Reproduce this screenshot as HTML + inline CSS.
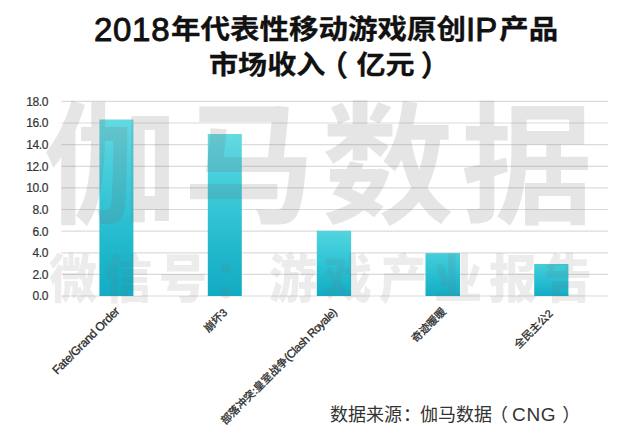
<!DOCTYPE html>
<html lang="zh-CN">
<head>
<meta charset="utf-8">
<style>
*{margin:0;padding:0;box-sizing:border-box;}
html,body{width:641px;height:445px;overflow:hidden;background:#fff;}
body{position:relative;font-family:"Liberation Sans","Noto Sans CJK SC",sans-serif;}
.t{position:absolute;white-space:nowrap;color:#111;font-weight:700;font-family:"Noto Sans CJK SC",sans-serif;font-size:29.5px;line-height:1;-webkit-text-stroke:0.3px #111;}
.t .d{font-size:33px;font-family:"Liberation Sans",sans-serif;font-weight:400;-webkit-text-stroke:0.9px #111;}
.t .p{font-family:"Noto Sans CJK TC",sans-serif;position:relative;}
.t .c{display:inline-block;transform:scaleY(0.91);transform-origin:0 2.5px;}
svg.chart{position:absolute;left:0;top:0;}
.yl{position:absolute;right:593px;font-size:12px;letter-spacing:-0.4px;line-height:1;color:#333;font-family:"Liberation Sans",sans-serif;-webkit-text-stroke:0.2px #333;}
.xl{position:absolute;font-size:10.8px;line-height:1;color:#2a2a2a;white-space:nowrap;transform-origin:100% 0;transform:rotate(-45deg);font-family:"Liberation Sans","Noto Sans CJK SC",sans-serif;-webkit-text-stroke:0.3px #2a2a2a;}
.xl .l{font-size:12px;letter-spacing:-0.35px;}
.wm{position:absolute;white-space:nowrap;color:rgba(110,110,110,0.18);font-family:"Noto Sans CJK SC",sans-serif;font-weight:700;line-height:1;}
.src{position:absolute;white-space:nowrap;color:#333;font-size:18px;line-height:1;font-family:"Liberation Sans","Noto Sans CJK SC",sans-serif;}
</style>
</head>
<body>
<div class="t" id="t1" style="left:94px;top:13px;"><span class="d" style="margin-right:0.8px;letter-spacing:0.7px">2018</span><span class="c">年代表性移动游戏原创</span><span class="d">IP</span><span class="c" style="margin-left:2px">产品</span></div>
<div class="t" id="t2" style="left:209px;top:49px;font-size:29.1px"><span class="c">市场收入</span><span class="p" style="left:-6.5px;margin-right:2px">（</span><span class="c">亿元</span><span class="p" style="left:6px">）</span></div>

<svg class="chart" width="641" height="445" viewBox="0 0 641 445">
<defs>
<linearGradient id="g1" x1="0" y1="0" x2="0" y2="1">
<stop offset="0" stop-color="#64d9e2"/><stop offset="0.35" stop-color="#3fcad9"/><stop offset="0.7" stop-color="#22b9cd"/><stop offset="1" stop-color="#13abc3"/>
</linearGradient>
<linearGradient id="g3" x1="0" y1="0" x2="0" y2="1">
<stop offset="0" stop-color="#52d4df"/><stop offset="0.5" stop-color="#2ec4d6"/><stop offset="1" stop-color="#13abc3"/>
</linearGradient>
<linearGradient id="g4" x1="0" y1="0" x2="0" y2="1">
<stop offset="0" stop-color="#45cdda"/><stop offset="0.5" stop-color="#29bfd2"/><stop offset="1" stop-color="#14acc4"/>
</linearGradient>
</defs>
<g stroke="#dbdbdb" stroke-width="1.2">
<line x1="61.5" x2="608" y1="101.4" y2="101.4"/>
<line x1="61.5" x2="608" y1="123.0" y2="123.0"/>
<line x1="61.5" x2="608" y1="144.7" y2="144.7"/>
<line x1="61.5" x2="608" y1="166.3" y2="166.3"/>
<line x1="61.5" x2="608" y1="187.9" y2="187.9"/>
<line x1="61.5" x2="608" y1="209.5" y2="209.5"/>
<line x1="61.5" x2="608" y1="231.2" y2="231.2"/>
<line x1="61.5" x2="608" y1="252.8" y2="252.8"/>
<line x1="61.5" x2="608" y1="274.4" y2="274.4"/>
<line x1="61.5" x2="608" y1="296.0" y2="296.0"/>
</g>
<g>
<rect fill="url(#g1)" x="99.4" y="119.5" width="34" height="176.5"/>
<rect fill="url(#g1)" x="207.8" y="134" width="34" height="162"/>
<rect fill="url(#g3)" x="316.8" y="230.8" width="34.3" height="65.2"/>
<rect fill="url(#g4)" x="425.5" y="253.1" width="34.5" height="42.9"/>
<rect fill="url(#g4)" x="534.2" y="264" width="34.2" height="32"/>
</g>
</svg>

<div class="yl" style="top:95.9px">18.0</div>
<div class="yl" style="top:117.4px">16.0</div>
<div class="yl" style="top:139.1px">14.0</div>
<div class="yl" style="top:160.7px">12.0</div>
<div class="yl" style="top:182.4px">10.0</div>
<div class="yl" style="top:203.9px">8.0</div>
<div class="yl" style="top:225.6px">6.0</div>
<div class="yl" style="top:247.2px">4.0</div>
<div class="yl" style="top:268.8px">2.0</div>
<div class="yl" style="top:290.4px">0.0</div>

<div class="xl" style="right:527.5px;top:304.5px"><span class="l">Fate/Grand Order</span></div>
<div class="xl" style="right:419px;top:306.5px">崩坏3</div>
<div class="xl" style="right:311px;top:306px">部落冲突:皇室战争<span class="l" style="font-size:11.6px;letter-spacing:-0.55px">(Clash Royale)</span></div>
<div class="xl" style="right:200.5px;top:306px">奇迹暖暖</div>
<div class="xl" style="right:94px;top:308px">全民主公2</div>

<div class="wm" style="left:44px;top:90px;font-size:132px;letter-spacing:7px;">伽<span style="position:relative;top:-1px">马</span>数据</div>
<div class="wm" style="left:49px;top:249px;font-size:48px;letter-spacing:7px;color:rgba(110,110,110,0.135);font-weight:900;transform:scaleY(1.08);transform-origin:0 0;">微信号：游戏产业报告</div>

<div class="src" style="left:330px;top:404.5px">数据来源<span style="position:relative;left:1px">：</span>伽马数据<span style="position:relative;left:-2px">（</span><span style="font-size:19px;letter-spacing:0.7px;margin-left:2px">CNG</span><span style="margin-left:6px">）</span></div>
</body>
</html>
